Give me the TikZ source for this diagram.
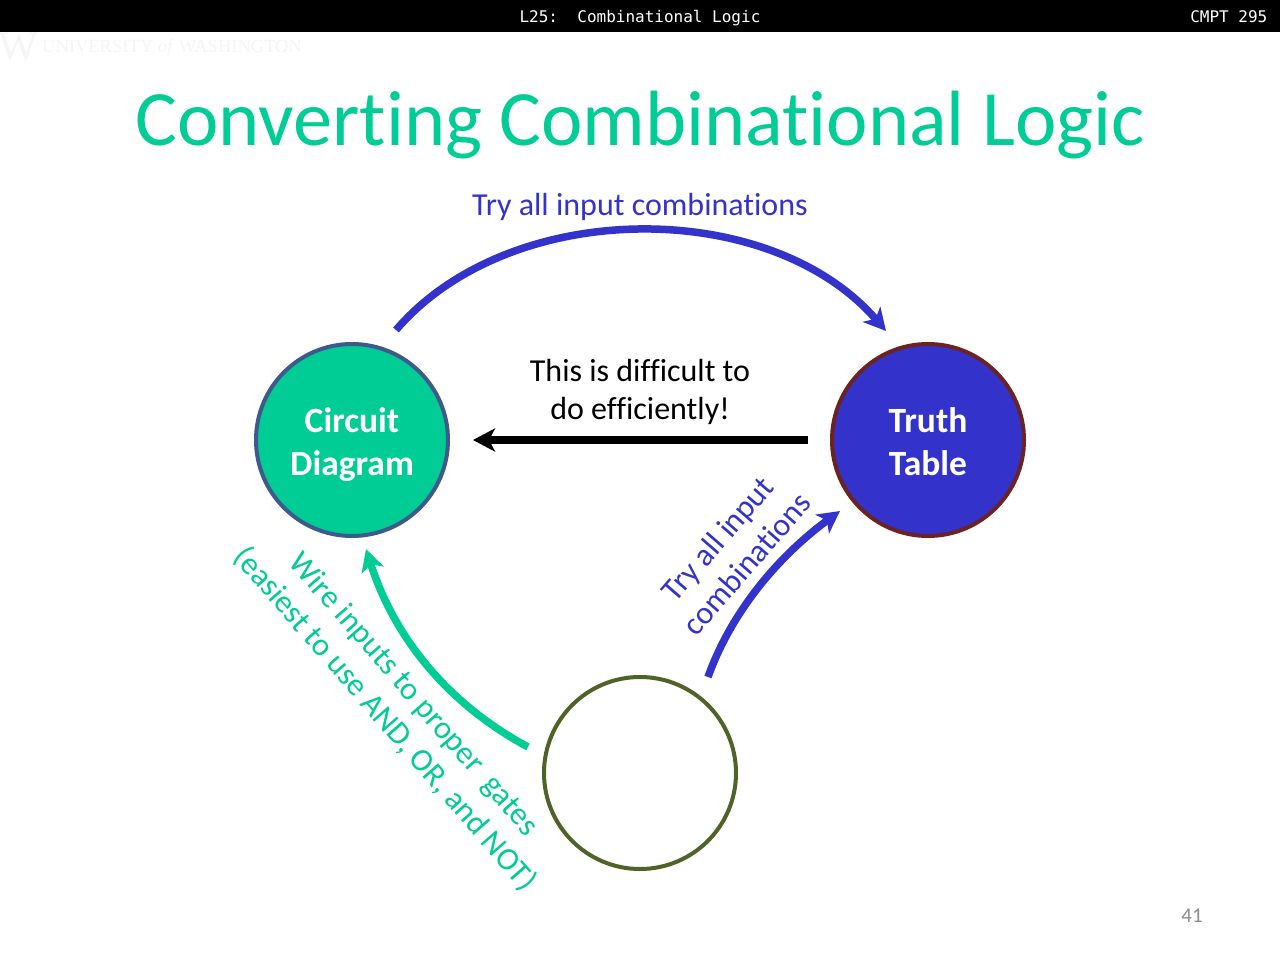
\documentclass[tikz,border=0pt]{standalone}
\usepackage{fontspec}
\setmainfont[Ligatures=NoCommon]{Carlito}
\newfontfamily\hdrfont{DejaVu Sans Mono}
\newfontfamily\wmfont{Liberation Serif}
\usetikzlibrary{arrows.meta}
\definecolor{tealc}{HTML}{00CC96}
\definecolor{bluec}{HTML}{3333CC}
\definecolor{cdedge}{HTML}{3F5A8A}
\definecolor{ttedge}{HTML}{6B2222}
\definecolor{inedge}{HTML}{4F6228}
\tikzset{
 lbl/.style={inner sep=0pt,align=center,text=#1},
 circ/.style={circle,minimum size=192pt,inner sep=0pt,line width=4pt,draw=#1},
 inner/.style={text=white,inner sep=0pt,align=center,font=\fontsize{35.5}{43}\selectfont\bfseries},
 arr/.style={line width=7.5pt,draw=#1,-{Stealth[length=22pt,width=23pt,inset=6pt]}},
 hdr/.style={text=white,inner sep=0pt,anchor=base,font=\hdrfont\fontsize{16}{20}\selectfont},
}
\begin{document}
\begin{tikzpicture}[x=1pt,y=-1pt]
\useasboundingbox (0,0) rectangle (1280,960);
\fill[white] (0,0) rectangle (1280,960);
\fill[black] (0,0) rectangle (1280,32);
\node[hdr] (h1) at (640,22.5) {L25:\ \ Combinational Logic};
\node[hdr,anchor=base east] (h2) at (1267.5,22.5) {CMPT 295};
\node[inner sep=0pt,text=black!4,font=\wmfont\fontsize{42}{42}\selectfont] (wm1) at (18,47) {W};
\node[inner sep=0pt,anchor=west,text=black!4,font=\wmfont\fontsize{18.5}{20}\selectfont] (wm2) at (42,48) {UNIVERSITY \textit{of} WASHINGTON};
\node[lbl=tealc,font=\fontsize{78.4}{90}\selectfont] (title) at (640.5,125) {Converting Combinational Logic};
\node[circ=cdedge,fill=tealc] (cd) at (352,440) {};
\node[circ=ttedge,fill=bluec] (tt) at (928,440) {};
\node[circ=inedge] (in) at (640,773) {};
\node[inner] (cdl) at (352,444.5) {Circuit\\Diagram};
\node[inner] (ttl) at (928,442) {Truth\\Table};
\coordinate (a1s) at (396,330);
\coordinate (a1e) at (886,331);
\coordinate (a2s) at (808,440);
\coordinate (a2e) at (473,440);
\coordinate (a3s) at (528,747);
\coordinate (a3e) at (366,549);
\coordinate (a4s) at (708,677);
\coordinate (a4e) at (840,511);
\draw[arr=bluec] (a1s) .. controls (510,197) and (770,197) .. (a1e);
\draw[arr=black] (a2s) -- (a2e);
\draw[arr=tealc] (a3s) .. controls (450,705) and (395,640) .. (a3e);
\draw[arr=bluec] (a4s) .. controls (732,610) and (780,555) .. (a4e);
\node[lbl=bluec,font=\fontsize{32}{38}\selectfont] (t1) at (640,207) {Try all input combinations};
\node[lbl=black,font=\fontsize{32}{38}\selectfont] (t2) at (640,392) {This is difficult to\\do efficiently!};
\node[lbl=bluec,rotate=49,font=\fontsize{32}{38}\selectfont] (t3) at (732,551) {Try all input\\combinations};
\node[lbl=tealc,rotate=-49,font=\fontsize{32}{38}\selectfont] (t4) at (399,707) {Wire inputs to proper\ \ gates\\(easiest to use AND, OR, and NOT)};
\node[inner sep=0pt,text=black!45,font=\fontsize{21}{24}\selectfont] (pg) at (1192,916) {41};
\end{tikzpicture}
\end{document}
